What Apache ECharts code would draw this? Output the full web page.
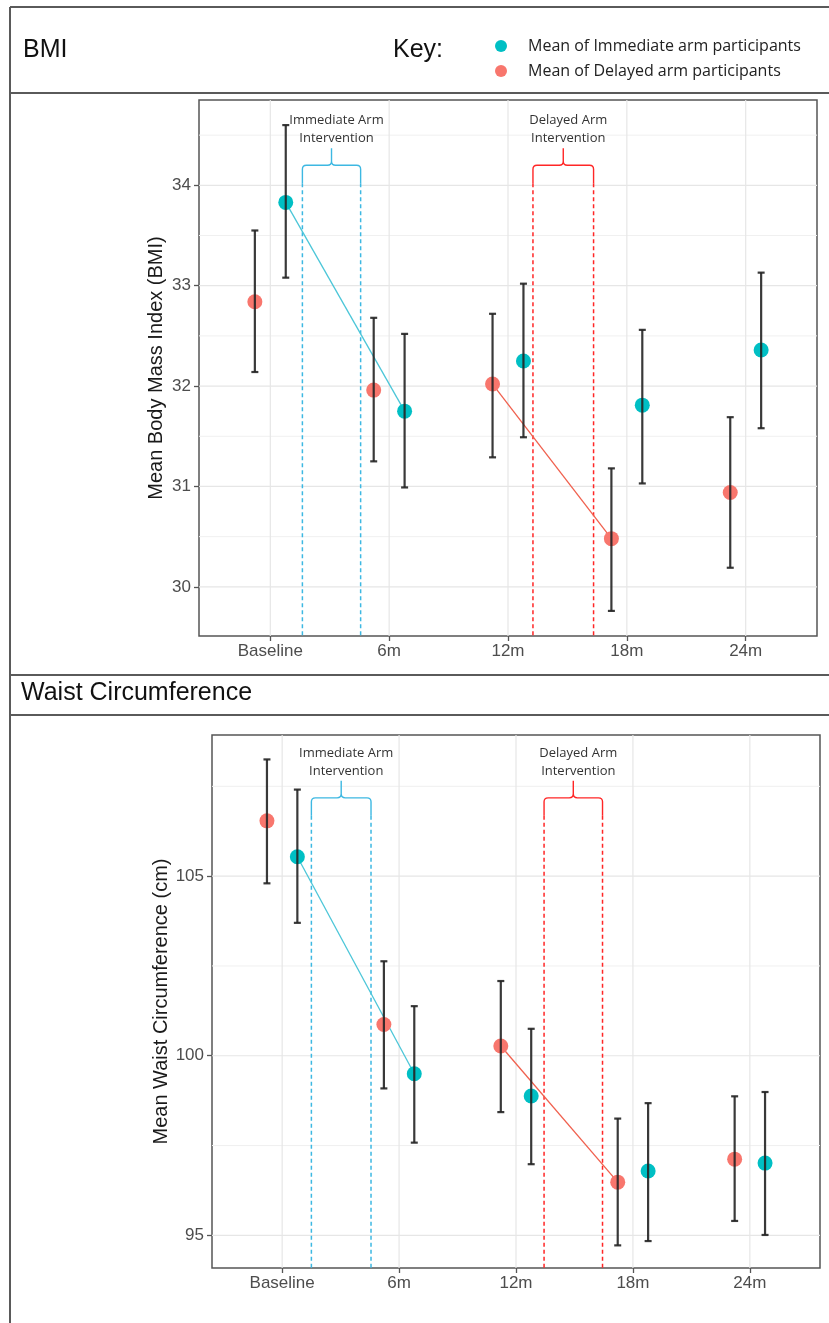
<!DOCTYPE html>
<html>
<head>
<meta charset="utf-8">
<script src="https://cdn.jsdelivr.net/npm/echarts@6/dist/echarts.min.js"></script>
<style>
html,body{margin:0;padding:0;background:#fff;}
#chart{width:829px;height:1323px;}
</style>
</head>
<body>
<div id="chart"></div>
<script>
// ---------- data ----------
const categories = ['Baseline', '6m', '12m', '18m', '24m'];
const seriesNames = ['Mean of Immediate arm participants', 'Mean of Delayed arm participants'];

const bmiImmediateMean = [33.83, 31.75, 32.25, 31.81, 32.36];
const bmiImmediateLow  = [33.08, 30.99, 31.49, 31.03, 31.58];
const bmiImmediateHigh = [34.60, 32.52, 33.02, 32.56, 33.13];
const bmiDelayedMean   = [32.84, 31.96, 32.02, 30.48, 30.94];
const bmiDelayedLow    = [32.14, 31.25, 31.29, 29.76, 30.19];
const bmiDelayedHigh   = [33.55, 32.68, 32.72, 31.18, 31.69];

const waistImmediateMean = [105.54, 99.50, 98.88, 96.79, 97.01];
const waistImmediateLow  = [103.70, 97.58, 96.98, 94.84, 95.01];
const waistImmediateHigh = [107.41, 101.38, 100.75, 98.68, 98.99];
const waistDelayedMean   = [106.54, 100.87, 100.27, 96.48, 97.12];
const waistDelayedLow    = [104.80, 99.09, 98.43, 94.72, 95.40];
const waistDelayedHigh   = [108.25, 102.63, 102.08, 98.25, 98.87];

// intervention segments (category indices joined by a line)
const immediateLink = [0, 1];
const delayedLink = [2, 3];

// tick values
const xTicks = [0, 1, 2, 3, 4];
const bmiTicks = [30, 31, 32, 33, 34];
const bmiMinor = [30.5, 31.5, 32.5, 33.5, 34.5];
const waistTicks = [95, 100, 105];
const waistMinor = [97.5, 102.5, 107.5];
const bmiRange = [29.51, 34.85];
const waistRange = [94.09, 108.93];

// intervention windows (x in category units) and bracket height (y units)
const bmiImmediateWindow = [0.27, 0.76];
const bmiDelayedWindow = [2.21, 2.72];
const bmiBracketY = 34.20;
const waistImmediateWindow = [0.25, 0.76];
const waistDelayedWindow = [2.24, 2.74];
const waistBracketY = 107.18;
const immediateText = ['Immediate Arm', 'Intervention'];
const delayedText = ['Delayed Arm', 'Intervention'];

// ---------- styling ----------
const TEAL = '#00BFC4', RED = '#F8766D';
const DODGE = 0.13;
const ARIAL = '"Liberation Sans", Arial, sans-serif';
const OPEN = '"Open Sans", "Noto Sans", sans-serif';

const chart = echarts.init(document.getElementById('chart'), null, {renderer: 'canvas'});

function gridLineSeries(gi, majors, minors) {
  const data = [];
  majors.forEach(v => data.push([v, 1]));
  minors.forEach(v => data.push([v, 0]));
  return {
    type: 'custom', xAxisIndex: gi, yAxisIndex: gi, z: 1, silent: true,
    data: data, encode: {y: 0},
    renderItem: function (params, api) {
      const cs = params.coordSys;
      const y = api.coord([0, api.value(0)])[1];
      const major = api.value(1) === 1;
      return {type: 'line', shape: {x1: cs.x, y1: y, x2: cs.x + cs.width, y2: y},
        style: {stroke: major ? '#e6e6e6' : '#f0f0f0', lineWidth: major ? 1.2 : 1}};
    }
  };
}
function vGridSeries(gi) {
  return {
    type: 'custom', xAxisIndex: gi, yAxisIndex: gi, z: 1, silent: true,
    data: xTicks.map(v => [v]), encode: {x: 0},
    renderItem: function (params, api) {
      const cs = params.coordSys;
      const x = api.coord([api.value(0), 0])[0];
      return {type: 'line', shape: {x1: x, y1: cs.y, x2: x, y2: cs.y + cs.height},
        style: {stroke: '#e6e6e6', lineWidth: 1.2}};
    }
  };
}
function bracketSeries(gi, win, yTop, lines, color) {
  return {
    type: 'custom', xAxisIndex: gi, yAxisIndex: gi, z: 2, silent: true,
    data: [[win[0], win[1], yTop]], encode: {x: [0, 1], y: 2},
    renderItem: function (params, api) {
      const cs = params.coordSys;
      const p0 = api.coord([api.value(0), api.value(2)]);
      const p1 = api.coord([api.value(1), api.value(2)]);
      const x0 = p0[0], x1 = p1[0], y = p0[1], xm = (x0 + x1) / 2;
      const bottom = cs.y + cs.height;
      const r = 4, leg = 18, notch = 17;
      const path = 'M' + x0 + ',' + (y + leg) + ' L' + x0 + ',' + (y + r) +
        ' Q' + x0 + ',' + y + ' ' + (x0 + r) + ',' + y +
        ' L' + (xm - r) + ',' + y + ' Q' + xm + ',' + y + ' ' + xm + ',' + (y - r) +
        ' L' + xm + ',' + (y - notch) +
        ' M' + xm + ',' + (y - r) + ' Q' + xm + ',' + y + ' ' + (xm + r) + ',' + y +
        ' L' + (x1 - r) + ',' + y + ' Q' + x1 + ',' + y + ' ' + x1 + ',' + (y + r) +
        ' L' + x1 + ',' + (y + leg);
      return {type: 'group', children: [
        {type: 'path', shape: {pathData: path}, style: {stroke: color, fill: null, lineWidth: 1.4}},
        {type: 'line', shape: {x1: x0, y1: y + leg, x2: x0, y2: bottom}, style: {stroke: color, lineWidth: 1.5, lineDash: [4, 3]}},
        {type: 'line', shape: {x1: x1, y1: y + leg, x2: x1, y2: bottom}, style: {stroke: color, lineWidth: 1.5, lineDash: [4, 3]}},
        {type: 'text', style: {text: lines[1], x: xm + 5, y: y - notch - 10, align: 'center', verticalAlign: 'middle',
          fontSize: 13, fontFamily: OPEN, fill: '#333'}},
        {type: 'text', style: {text: lines[0], x: xm + 5, y: y - notch - 28, align: 'center', verticalAlign: 'middle',
          fontSize: 13, fontFamily: OPEN, fill: '#333'}}
      ]};
    }
  };
}
function errorSeries(gi, offset, low, high, name) {
  return {
    type: 'custom', name: name, xAxisIndex: gi, yAxisIndex: gi, z: 6, silent: true,
    data: low.map((v, i) => [i + offset, v, high[i]]), encode: {x: 0, y: [1, 2]},
    renderItem: function (params, api) {
      const lo = api.coord([api.value(0), api.value(1)]);
      const hi = api.coord([api.value(0), api.value(2)]);
      const c = 3.5, st = {stroke: 'rgba(35,35,35,0.9)', lineWidth: 2.2};
      return {type: 'group', children: [
        {type: 'line', shape: {x1: lo[0], y1: lo[1], x2: hi[0], y2: hi[1]}, style: st},
        {type: 'line', shape: {x1: hi[0] - c, y1: hi[1], x2: hi[0] + c, y2: hi[1]}, style: st},
        {type: 'line', shape: {x1: lo[0] - c, y1: lo[1], x2: lo[0] + c, y2: lo[1]}, style: st}
      ]};
    }
  };
}
function pointSeries(gi, offset, mean, name, color) {
  return {
    type: 'scatter', name: name, xAxisIndex: gi, yAxisIndex: gi, z: 5,
    symbol: 'circle', symbolSize: 15, itemStyle: {color: color, opacity: 1},
    data: mean.map((v, i) => [i + offset, v])
  };
}
function linkSeries(gi, offset, mean, link, color) {
  return {
    type: 'line', xAxisIndex: gi, yAxisIndex: gi, z: 4, silent: true, symbol: 'none',
    lineStyle: {color: color, width: 1.3},
    data: link.map(i => [i + offset, mean[i]])
  };
}
function xAxis(gi) {
  return {
    type: 'value', gridIndex: gi, min: -0.6, max: 4.6,
    axisLine: {show: false, onZero: false},
    splitLine: {show: false},
    axisTick: {show: true, customValues: xTicks, length: 5, lineStyle: {color: '#555', width: 1.3}},
    axisLabel: {customValues: xTicks, formatter: v => categories[Math.round(v)], margin: 7,
      fontFamily: ARIAL, fontSize: 17, color: '#4d4d4d'}
  };
}
function yAxis(gi, range, ticks, name, gap) {
  return {
    type: 'value', gridIndex: gi, min: range[0], max: range[1],
    name: name, nameLocation: 'middle', nameGap: gap, nameMoveOverlap: false,
    nameTextStyle: {fontFamily: ARIAL, fontSize: 20, color: '#1a1a1a'},
    axisLine: {show: false, onZero: false},
    splitLine: {show: false},
    axisTick: {show: true, customValues: ticks, length: 5, lineStyle: {color: '#555', width: 1.3}},
    axisLabel: {customValues: ticks, margin: 8, fontFamily: ARIAL, fontSize: 17, color: '#4d4d4d'}
  };
}

const frame = {stroke: '#5a5a5a', lineWidth: 2};
const option = {
  animation: false,
  backgroundColor: '#fff',
  legend: {
    data: seriesNames, orient: 'vertical', left: 490, top: 31,
    icon: 'circle', itemWidth: 12, itemHeight: 12, itemGap: 5,
    textStyle: {fontFamily: OPEN, fontSize: 16, color: '#222', lineHeight: 20, padding: [0, 0, 0, 16]}
  },
  grid: [
    {left: 199, top: 100, width: 618, height: 536, show: true, borderColor: '#555', borderWidth: 1.5, backgroundColor: 'transparent'},
    {left: 212, top: 735, width: 608, height: 533, show: true, borderColor: '#555', borderWidth: 1.5, backgroundColor: 'transparent'}
  ],
  xAxis: [xAxis(0), xAxis(1)],
  yAxis: [
    yAxis(0, bmiRange, bmiTicks, 'Mean Body Mass Index (BMI)', 33),
    yAxis(1, waistRange, waistTicks, 'Mean Waist Circumference (cm)', 41)
  ],
  graphic: [
    {type: 'line', shape: {x1: 10, y1: 7, x2: 829, y2: 7}, style: frame, silent: true},
    {type: 'line', shape: {x1: 10, y1: 7, x2: 10, y2: 1323}, style: frame, silent: true},
    {type: 'line', shape: {x1: 10, y1: 93, x2: 829, y2: 93}, style: frame, silent: true},
    {type: 'line', shape: {x1: 10, y1: 675, x2: 829, y2: 675}, style: frame, silent: true},
    {type: 'line', shape: {x1: 10, y1: 715, x2: 829, y2: 715}, style: frame, silent: true},
    {type: 'text', left: 23, top: 38, style: {text: 'BMI', fontFamily: ARIAL, fontSize: 25, fill: '#111'}},
    {type: 'text', left: 393, top: 38, style: {text: 'Key:', fontFamily: ARIAL, fontSize: 25, fill: '#111'}},
    {type: 'text', left: 21, top: 681, style: {text: 'Waist Circumference', fontFamily: ARIAL, fontSize: 25, fill: '#111'}}
  ],
  series: [
    gridLineSeries(0, bmiTicks, bmiMinor), vGridSeries(0),
    gridLineSeries(1, waistTicks, waistMinor), vGridSeries(1),
    bracketSeries(0, bmiImmediateWindow, bmiBracketY, immediateText, '#3DB8E2'),
    bracketSeries(0, bmiDelayedWindow, bmiBracketY, delayedText, '#FF2626'),
    bracketSeries(1, waistImmediateWindow, waistBracketY, immediateText, '#3DB8E2'),
    bracketSeries(1, waistDelayedWindow, waistBracketY, delayedText, '#FF2626'),
    linkSeries(0, DODGE, bmiImmediateMean, immediateLink, '#4CC6D8'),
    linkSeries(0, -DODGE, bmiDelayedMean, delayedLink, '#F0604E'),
    linkSeries(1, DODGE, waistImmediateMean, immediateLink, '#4CC6D8'),
    linkSeries(1, -DODGE, waistDelayedMean, delayedLink, '#F0604E'),
    pointSeries(0, DODGE, bmiImmediateMean, seriesNames[0], TEAL),
    pointSeries(0, -DODGE, bmiDelayedMean, seriesNames[1], RED),
    pointSeries(1, DODGE, waistImmediateMean, seriesNames[0], TEAL),
    pointSeries(1, -DODGE, waistDelayedMean, seriesNames[1], RED),
    errorSeries(0, DODGE, bmiImmediateLow, bmiImmediateHigh, 'bmiImmErr'),
    errorSeries(0, -DODGE, bmiDelayedLow, bmiDelayedHigh, 'bmiDelErr'),
    errorSeries(1, DODGE, waistImmediateLow, waistImmediateHigh, 'waistImmErr'),
    errorSeries(1, -DODGE, waistDelayedLow, waistDelayedHigh, 'waistDelErr')
  ]
};
chart.setOption(option);
</script>
</body>
</html>
